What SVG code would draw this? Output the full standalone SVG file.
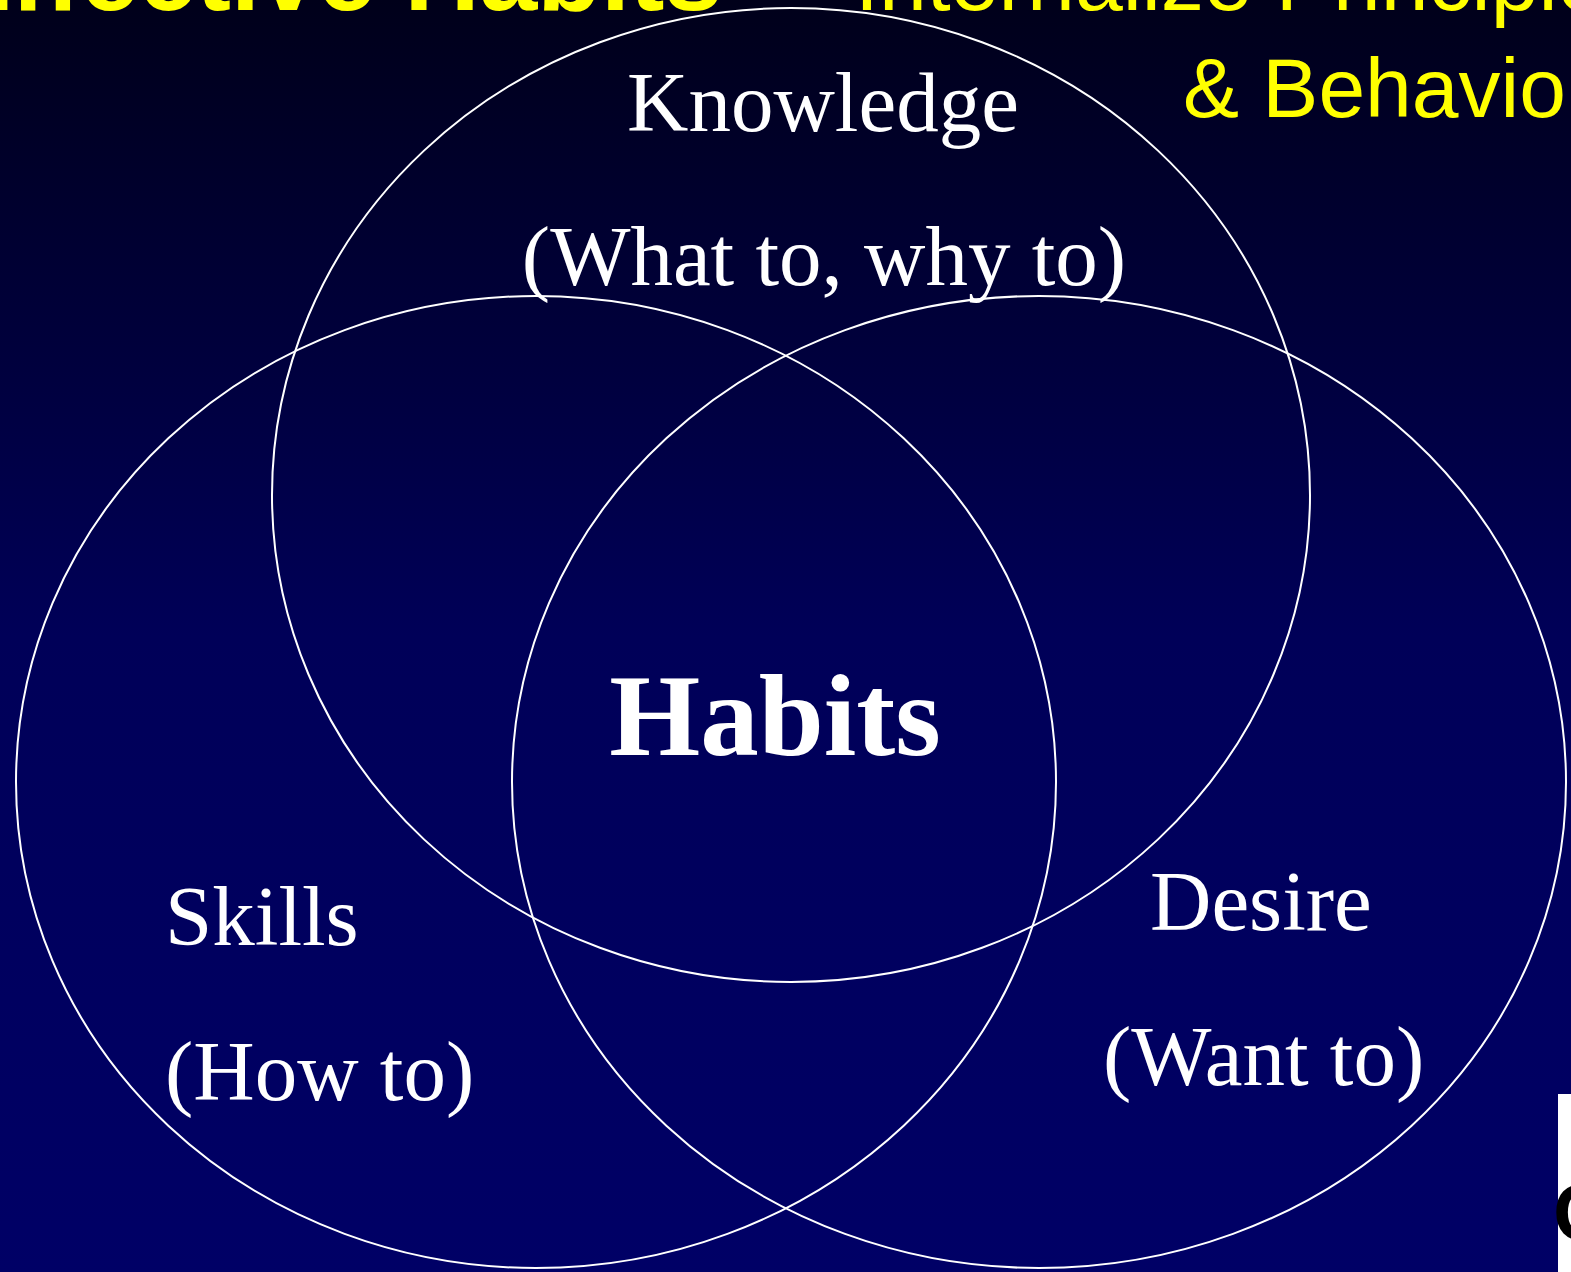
<svg xmlns="http://www.w3.org/2000/svg" width="1571" height="1272" viewBox="0 0 1571 1272">
<defs>
<linearGradient id="bg" x1="0" y1="0" x2="0" y2="1">
<stop offset="0" stop-color="#00001a"/>
<stop offset="0.5" stop-color="#000058"/>
<stop offset="1" stop-color="#000066"/>
</linearGradient>
<style>
.ring{fill:none;stroke:#ffffff;stroke-width:2}
.lbl{font-family:"Liberation Serif","Times New Roman",serif;fill:#ffffff;font-size:85px}
.ttl{font-family:"Liberation Sans",Arial,sans-serif;fill:#ffff00;font-size:84px}
</style>
</defs>
<rect x="0" y="0" width="1571" height="1272" fill="url(#bg)"/>
<g id="title">
<text class="ttl" x="-58" y="10" style="font-size:104px;font-weight:bold">Effective Habits</text>
<text class="ttl" x="760" y="10" style="font-size:86px">–</text>
<text class="ttl" x="855" y="10" style="font-size:86px">Internalize Principles</text>
<text class="ttl" x="1183" y="117">&amp; Behaviors</text>
</g>
<g id="connectors">
<ellipse id="knowledge-ring" class="ring" cx="791" cy="495" rx="519" ry="487"/>
<ellipse id="skills-ring" class="ring" cx="536" cy="782" rx="520" ry="486"/>
<ellipse id="desire-ring" class="ring" cx="1039" cy="782" rx="527" ry="486"/>
</g>
<g id="knowledge">
<text class="lbl" x="823" y="131" text-anchor="middle">Knowledge</text>
<text class="lbl" x="824" y="285" text-anchor="middle">(What to, why to)</text>
</g>
<g id="habits">
<text class="lbl" x="775" y="755" text-anchor="middle" style="font-size:117px;font-weight:bold">Habits</text>
</g>
<g id="skills">
<text class="lbl" x="165" y="945">Skills</text>
<text class="lbl" x="165" y="1100">(How to)</text>
</g>
<g id="desire">
<text class="lbl" x="1150" y="930">Desire</text>
<text class="lbl" x="1103" y="1085">(Want to)</text>
</g>
<g id="corner">
<rect x="1558" y="1094" width="13" height="178" fill="#ffffff"/>
<text x="1553" y="1240" font-family="Liberation Sans,Arial,sans-serif" font-size="80" font-weight="bold" fill="#000000">C</text>
</g>
</svg>
